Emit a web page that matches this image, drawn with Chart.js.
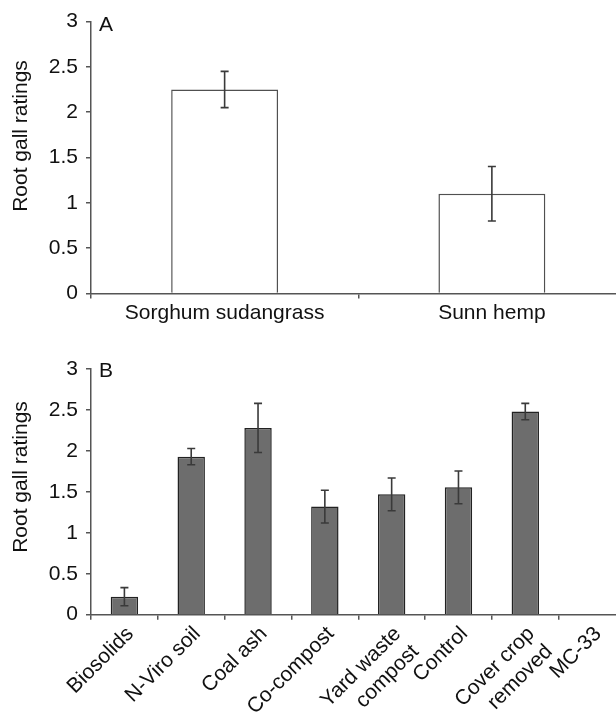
<!DOCTYPE html>
<html><head><meta charset="utf-8">
<script src="https://cdn.jsdelivr.net/npm/chart.js@4.4.1/dist/chart.umd.min.js"></script>
<style>
html,body{margin:0;padding:0;background:#fff;overflow:hidden;width:616px;height:712px;}
canvas{position:absolute;left:0;}
#cA{top:0;}
#cB{top:330px;}
</style></head><body>
<canvas id="cA" width="640" height="325"></canvas>
<canvas id="cB" width="640" height="382"></canvas>
<script>
const catsA = ["Sorghum sudangrass", "Sunn hemp"];
const valsA = [2.25, 1.10];
const errA = [0.20, 0.30];

const catsB = ["Biosolids", "N-Viro soil", "Coal ash", "Co-compost", ["Yard waste", "compost"], "Control", ["Cover crop", "removed"], "MC-33"];
const valsB = [0.22, 1.93, 2.28, 1.32, 1.47, 1.555, 2.48, null];
const errB = [0.11, 0.10, 0.30, 0.20, 0.20, 0.20, 0.10, null];

const yTicksMin = 0, yTicksMax = 3, yStep = 0.5;
const FONT = "'Liberation Sans', Arial, Helvetica, sans-serif";
const AXIS = '#555';

const errorBars = {
  id: 'errorBars',
  afterDatasetsDraw(chart, args, opts) {
    const ctx = chart.ctx;
    const meta = chart.getDatasetMeta(0);
    const ys = chart.scales.y;
    const vals = chart.data.datasets[0].data;
    ctx.save();
    ctx.strokeStyle = opts.color;
    ctx.lineWidth = opts.width;
    opts.errors.forEach((e, i) => {
      if (e == null || vals[i] == null) return;
      const x = meta.data[i].x;
      const t = ys.getPixelForValue(vals[i] + e);
      const b = ys.getPixelForValue(vals[i] - e);
      ctx.beginPath();
      ctx.moveTo(x, t); ctx.lineTo(x, b);
      ctx.moveTo(x - opts.cap, t); ctx.lineTo(x + opts.cap, t);
      ctx.moveTo(x - opts.cap, b); ctx.lineTo(x + opts.cap, b);
      ctx.stroke();
    });
    ctx.restore();
  }
};

const labels = {
  id: 'labels',
  afterDraw(chart, args, opts) {
    const ctx = chart.ctx;
    ctx.save();
    ctx.fillStyle = '#111';
    ctx.font = '21px ' + FONT;
    ctx.textBaseline = 'alphabetic';
    ctx.textAlign = 'left';
    ctx.fillText(opts.letter, opts.lx, opts.ly);
    ctx.translate(opts.tx, opts.ty);
    ctx.rotate(-Math.PI / 2);
    ctx.textAlign = 'center';
    ctx.textBaseline = 'middle';
    ctx.fillText(opts.title, 0, 0);
    ctx.restore();
  }
};

function makeChart(id, cats, vals, errs, cfg) {
  return new Chart(document.getElementById(id), {
    type: 'bar',
    data: {
      labels: cats,
      datasets: [{
        data: vals,
        backgroundColor: cfg.fill,
        borderColor: cfg.border,
        borderWidth: 1.5,
        barPercentage: cfg.barPct,
        categoryPercentage: 1.0
      }]
    },
    plugins: [errorBars, labels],
    options: {
      responsive: false,
      animation: false,
      events: [],
      layout: { padding: { top: cfg.padTop, right: cfg.padRight, left: 0, bottom: 0 } },
      plugins: {
        legend: { display: false },
        tooltip: { enabled: false },
        errorBars: { errors: errs, color: '#3a3a3a', width: 1.6, cap: cfg.cap },
        labels: cfg.labels
      },
      scales: {
        x: {
          offset: true,
          grid: { display: true, drawOnChartArea: false, drawTicks: true, tickLength: 5, color: AXIS, lineWidth: 1.5, offset: true },
          border: { display: true, color: AXIS, width: 1.5 },
          ticks: {
            color: '#111', font: { family: FONT, size: 21 }, padding: cfg.xPad,
            minRotation: cfg.rot, maxRotation: cfg.rot, autoSkip: false, labelOffset: cfg.lOff
          },
          afterFit(s) { s.height = cfg.xHeight; }
        },
        y: {
          min: yTicksMin, max: yTicksMax,
          grid: { display: true, drawOnChartArea: false, drawTicks: true, tickLength: 5, color: AXIS, lineWidth: 1.5 },
          border: { display: true, color: AXIS, width: 1.5 },
          ticks: { stepSize: yStep, color: '#111', font: { family: FONT, size: 21 }, padding: 8,
                   callback: (v) => String(v) },
          afterFit(s) { s.width = 91; }
        }
      }
    }
  });
}

makeChart('cA', catsA, valsA, errA, {
  fill: '#ffffff', border: '#505050', barPct: 0.4, cap: 4, lOff: 0,
  padTop: 21.5, padRight: 14.5, xHeight: 31.5, xPad: 2, rot: 0,
  labels: { letter: 'A', lx: 99, ly: 31, title: 'Root gall ratings', tx: 21, ty: 136 }
});

makeChart('cB', catsB, valsB, errB, {
  fill: '#6d6d6d', border: '#222', barPct: 0.41, cap: 4, lOff: 6,
  padTop: 39, padRight: 14.5, xHeight: 97.3, xPad: 2, rot: 45,
  labels: { letter: 'B', lx: 99, ly: 46.7, title: 'Root gall ratings', tx: 21, ty: 147 }
});
</script>
</body></html>
